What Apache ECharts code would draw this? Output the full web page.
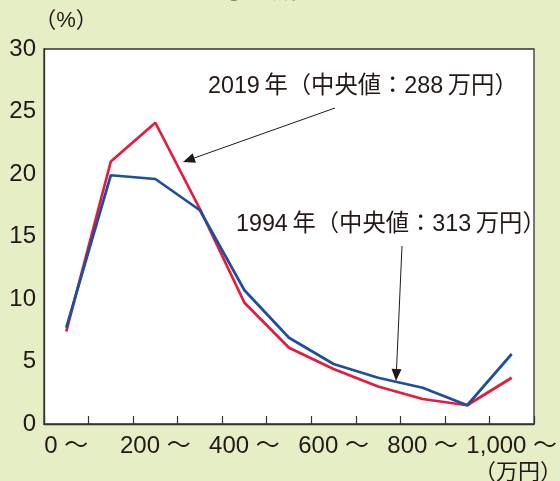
<!DOCTYPE html>
<html><head><meta charset="utf-8">
<script src="https://cdn.jsdelivr.net/npm/echarts@6/dist/echarts.min.js"></script>
<style>html,body{margin:0;padding:0;background:#e5eec4;}#c{width:560px;height:481px;}</style>
</head><body><div id="c"></div>
<script>
const categories = ['0 ～','100 ～','200 ～','300 ～','400 ～','500 ～','600 ～','700 ～','800 ～','900 ～','1,000 ～'];
const yTicks = [0,5,10,15,20,25,30];
const series2019 = [7.4, 21.0, 24.1, 17.2, 9.7, 6.1, 4.4, 3.0, 2.0, 1.5, 3.7];
const series1994 = [7.7, 19.9, 19.6, 17.1, 10.7, 6.9, 4.8, 3.7, 2.9, 1.5, 5.6];
const label2019 = '2019\u2009年（中央値：288\u2009万円）';
const label1994 = '1994\u2009年（中央値：313\u2009万円）';

const FONT = '"Liberation Sans", "Noto Sans CJK JP", sans-serif';
const TXT = '#231815';
const chart = echarts.init(document.getElementById('c'), null, {renderer:'canvas'});

function arrow(x1,y1,x2,y2){
  const ang = Math.atan2(y2-y1, x2-x1);
  const L = 12, W = 5;
  const bx = x2 - L*Math.cos(ang), by = y2 - L*Math.sin(ang);
  const px = -Math.sin(ang)*W, py = Math.cos(ang)*W;
  return [
    {type:'line', shape:{x1:x1,y1:y1,x2:bx,y2:by}, style:{stroke:TXT, lineWidth:1}, z:100},
    {type:'polygon', shape:{points:[[x2,y2],[bx+px,by+py],[bx-px,by-py]]}, style:{fill:TXT}, z:100}
  ];
}

chart.setOption({
  backgroundColor:'#e5eec4',
  animation:false,
  grid:{left:44, top:49, width:492, height:375, show:true, backgroundColor:'#ffffff', borderColor:'#333333', borderWidth:1.3},
  xAxis:{
    type:'category', data:categories, boundaryGap:true,
    axisLine:{show:true, lineStyle:{color:'#333333', width:1.3}},
    axisTick:{show:true, inside:true, length:8, interval:0, lineStyle:{color:'#333333', width:1.2}},
    axisLabel:{interval:1, color:TXT, fontSize:24, fontFamily:FONT, margin:10}
  },
  yAxis:{
    type:'value', min:yTicks[0], max:yTicks[yTicks.length-1], interval:5,
    splitLine:{show:false}, axisTick:{show:false},
    axisLine:{show:true, lineStyle:{color:'#333333', width:1.3}},
    axisLabel:{color:TXT, fontSize:24, fontFamily:FONT, margin:8}
  },
  series:[
    {name:'2019', type:'line', data:series2019, symbol:'none', lineStyle:{color:'#e8193c', width:2.7}, z:2},
    {name:'1994', type:'line', data:series1994, symbol:'none', lineStyle:{color:'#1c4f9c', width:2.7}, z:3}
  ],
  graphic:[
    {type:'text', left:222, top:-20.5, style:{text:'③65歳以上', fontSize:24, fontFamily:FONT, fill:'#555'}},
    {type:'text', x:66, y:21, style:{text:'（%）', fontSize:22, fontFamily:FONT, fill:TXT, align:'center', verticalAlign:'middle'}},
    {type:'text', x:562, y:473, style:{text:'（万円）', fontSize:22, fontFamily:FONT, fill:TXT, align:'right', verticalAlign:'middle'}},
    {type:'text', x:208, y:87, style:{text:label2019, fontSize:23.3, fontFamily:FONT, fill:TXT, align:'left', verticalAlign:'middle'}, z:100},
    {type:'text', x:236, y:225, style:{text:label1994, fontSize:23.3, fontFamily:FONT, fill:TXT, align:'left', verticalAlign:'middle'}, z:100},
    ...arrow(335,108,183,162),
    ...arrow(402,246,396,381)
  ]
});
</script></body></html>
